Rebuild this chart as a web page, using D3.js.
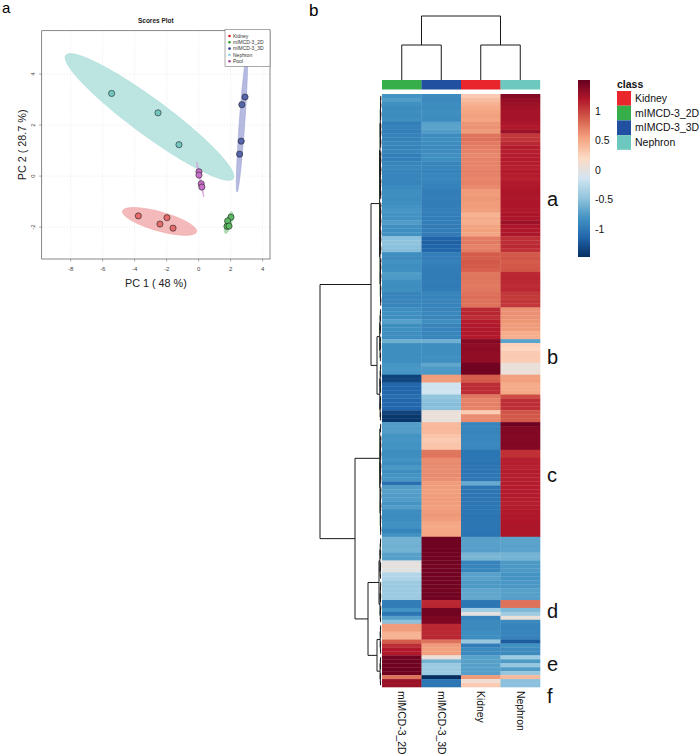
<!DOCTYPE html>
<html><head><meta charset="utf-8">
<script src="https://cdn.jsdelivr.net/npm/d3@7"></script>
<style>
body{margin:0;background:#fff}
svg{display:block}
text{font-family:"Liberation Sans", Arial, Helvetica, sans-serif}
</style>
</head><body>
<svg id="chart" width="700" height="756"></svg>
<script>
// ===================== DATA =====================
// --- Panel a: PCA scores (PC1, PC2) ---
const scoreGroups = ["Kidney", "mIMCD-3_2D", "mIMCD-3_3D", "Nephron", "Pool"];
const kidneyScores   = [[-3.77, -1.56], [-1.98, -1.63], [-2.42, -1.88], [-1.60, -2.04]];
const mimcd2dScores  = [[2.02, -1.61], [1.81, -1.76], [1.77, -1.97], [1.90, -1.96]];
const mimcd3dScores  = [[2.90, 3.10], [2.70, 2.80], [2.66, 1.37], [2.56, 0.86]];
const nephronScores  = [[-5.44, 3.24], [-2.54, 2.48], [-1.23, 1.23]];
const poolScores     = [[0.02, 0.17], [0.02, 0.04], [0.16, -0.30], [0.20, -0.43]];
const scoreLegendColors = ["#e41a1c", "#33a02c", "#2b3990", "#8dd3e0", "#a349a4"];
const scorePointColors  = ["#e46a6b", "#5cb862", "#5565ab", "#72c6c0", "#c86fca"];
const scoreEllipseColors= ["#f0a3a4", "#93d29a", "#9da3d6", "#a6dcd8", "#d49bd6"];
const pcaXTicks = [-8, -6, -4, -2, 0, 2, 4];
const pcaYTicks = [-2, 0, 2, 4];
const pc1Label = "PC 1 ( 48 %)";
const pc2Label = "PC 2 ( 28.7 %)";

// --- Panel b: heatmap ---
const heatColumns = ["mIMCD-3_2D", "mIMCD-3_3D", "Kidney", "Nephron"];
const classNames  = ["Kidney", "mIMCD-3_2D", "mIMCD-3_3D", "Nephron"];
const classColors = ["#e8262b", "#36af4b", "#2150a0", "#6dc8bf"];
// rows: [mIMCD-3_2D, mIMCD-3_3D, Kidney, Nephron]
const heatRows = [
[-0.80,-0.86,0.30,1.40],[-0.74,-0.88,0.38,1.33],[-0.82,-0.85,0.45,1.30],[-0.86,-0.86,0.50,1.27],
[-0.84,-0.83,0.53,1.25],[-0.86,-0.84,0.55,1.25],[-0.83,-0.86,0.53,1.26],[-0.96,-0.72,0.60,1.22],
[-0.94,-0.70,0.62,1.20],[-0.96,-0.74,0.58,1.30],[-0.93,-0.86,0.76,1.05],[-0.94,-0.84,0.78,1.07],
[-0.91,-0.86,0.74,1.12],[-0.93,-0.88,0.72,1.18],[-0.91,-0.86,0.70,1.17],[-0.96,-0.83,0.67,1.18],
[-0.95,-0.84,0.70,1.19],[-0.91,-0.91,0.70,1.18],[-0.89,-0.91,0.69,1.17],[-0.91,-0.93,0.71,1.19],
[-0.92,-0.91,0.70,1.18],[-0.90,-0.89,0.68,1.16],[-0.91,-0.92,0.70,1.19],[-0.88,-0.93,0.66,1.20],
[-0.84,-0.96,0.58,1.22],[-0.83,-0.96,0.57,1.23],[-0.86,-0.95,0.60,1.21],[-0.83,-0.97,0.58,1.22],
[-0.81,-0.96,0.58,1.22],[-0.79,-0.95,0.56,1.20],[-0.81,-0.96,0.45,1.23],[-0.81,-0.97,0.50,1.22],
[-0.74,-0.96,0.48,1.30],[-0.83,-0.98,0.54,1.22],[-0.84,-0.97,0.55,1.21],[-0.82,-0.98,0.53,1.23],
[-0.50,-1.15,0.72,1.10],[-0.48,-1.17,0.74,1.10],[-0.50,-1.15,0.70,1.12],[-0.52,-1.13,0.72,1.08],
[-0.84,-0.96,0.88,0.90],[-0.86,-0.96,0.87,0.92],[-0.81,-0.94,0.90,0.88],[-0.84,-0.96,0.88,0.90],
[-0.83,-0.97,0.86,0.91],[-0.74,-0.98,0.75,1.12],[-0.76,-0.98,0.76,1.13],[-0.83,-0.97,0.75,1.12],
[-0.84,-0.98,0.74,1.10],[-0.83,-0.97,0.75,1.12],[-0.91,-0.91,0.78,1.05],[-0.92,-0.93,0.80,1.04],
[-0.90,-0.91,0.78,1.06],[-0.91,-0.92,0.77,1.05],[-0.84,-0.91,1.12,0.62],[-0.83,-0.89,1.13,0.63],
[-0.84,-0.91,1.10,0.62],[-0.72,-0.84,1.18,0.60],[-0.84,-0.91,1.20,0.58],[-0.83,-0.92,1.21,0.57],
[-0.84,-0.91,1.20,0.48],[-0.85,-0.91,1.19,0.47],[-0.62,-0.62,1.40,-0.70],[-0.84,-0.83,1.35,0.25],
[-0.83,-0.84,1.36,0.22],[-0.84,-0.83,1.35,0.30],[-0.83,-0.82,1.34,0.31],[-0.84,-0.83,1.35,0.29],
[-0.79,-0.68,1.48,0.05],[-0.78,-0.76,1.49,0.04],[-0.79,-0.77,1.48,0.06],[-1.35,0.58,0.88,0.55],
[-1.33,0.57,0.89,0.56],[-1.13,-0.15,1.10,0.50],[-1.14,-0.16,1.11,0.50],[-1.13,-0.14,1.10,0.51],
[-1.08,-0.47,0.75,0.95],[-1.13,-0.50,0.70,1.10],[-1.12,-0.52,0.71,1.10],[-1.13,-0.50,0.70,1.09],
[-1.35,0.05,0.30,0.92],[-1.42,0.05,0.65,0.90],[-1.43,0.04,0.66,0.90],[-0.74,0.40,-0.92,1.50],
[-0.75,0.42,-0.91,1.42],[-0.74,0.40,-0.92,1.42],[-0.80,0.33,-0.89,1.40],[-0.79,0.30,-0.89,1.40],
[-0.81,0.33,-0.88,1.41],[-0.80,0.34,-0.89,1.40],[-0.85,0.75,-1.02,1.08],[-0.84,0.76,-1.02,1.08],
[-0.80,0.65,-1.02,1.17],[-0.85,0.66,-1.04,1.17],[-0.78,0.64,-1.02,1.16],[-0.85,0.65,-1.03,1.18],
[-0.80,0.66,-1.02,1.17],[-0.79,0.63,-1.01,1.17],[-1.07,0.58,-0.65,1.18],[-0.74,0.57,-1.02,1.18],
[-0.72,0.56,-1.02,1.18],[-0.75,0.57,-1.03,1.19],[-0.74,0.58,-1.02,1.18],[-0.80,0.57,-1.02,1.17],
[-0.74,0.56,-1.02,1.18],[-0.85,0.58,-1.02,1.20],[-0.86,0.60,-1.03,1.21],[-0.85,0.57,-1.02,1.20],
[-0.82,0.52,-1.02,1.22],[-0.82,0.50,-1.02,1.23],[-0.92,0.52,-1.02,1.22],[-0.82,0.53,-1.03,1.22],
[-0.60,1.50,-0.72,-0.70],[-0.60,1.49,-0.71,-0.70],[-0.62,1.50,-0.72,-0.71],[-0.60,1.50,-0.73,-0.70],
[-0.72,1.48,-0.58,-0.60],[-0.73,1.48,-0.58,-0.60],[0.00,1.48,-0.92,-0.76],[0.02,1.47,-0.92,-0.77],
[-0.02,1.48,-0.90,-0.76],[-0.30,1.48,-0.72,-0.80],[-0.31,1.48,-0.72,-0.80],[-0.42,1.48,-0.76,-0.78],
[-0.43,1.48,-0.76,-0.77],[-0.42,1.47,-0.68,-0.72],[-0.41,1.48,-0.68,-0.72],[-0.42,1.48,-0.67,-0.73],
[-0.97,1.12,-1.02,0.78],[-0.97,1.13,-1.02,0.77],[-0.80,1.48,-0.40,-0.55],[-1.02,1.48,0.00,-0.40],
[-0.72,1.43,-0.92,0.05],[-0.50,1.43,-0.87,-0.87],[0.58,1.12,-0.87,-0.92],[0.57,1.12,-0.87,-0.92],
[0.45,1.12,-0.85,-0.92],[0.45,1.13,-0.85,-0.93],[0.88,0.77,-0.45,-1.20],[1.10,0.58,-0.97,-0.82],
[1.20,0.55,-0.87,-0.87],[1.20,0.55,-0.88,-0.87],[1.48,0.05,-0.72,-0.40],[1.50,-0.60,-0.72,-0.76],
[1.50,-0.42,-0.72,-0.45],[1.50,-0.43,-0.72,-0.74],[1.50,-0.42,-0.73,-0.45],[0.77,-1.47,0.58,0.40],
[1.30,-1.02,0.10,-0.50],[1.30,-1.02,0.30,-0.50]
];
// colour ramp: rev(brewer.pal(10,"RdBu")) spread over the data range
const heatPalette = ["#67001F","#B2182B","#D6604D","#F4A582","#FDDBC7","#D1E5F0","#92C5DE","#4393C3","#2166AC","#053061"];
const heatMax = 1.53, heatMin = -1.47;
const heatLegendTicks = [1, 0.5, 0, -0.5, -1];
// row clusters: [name, firstRow, lastRow, inner merge height]
const rowClusters = [["a",0,53,1.4],["b1",54,67,1.3],["b2",68,82,1.2],["c1",83,85,0.5],["c2",86,111,1.0],
                     ["d1",112,122,1.1],["d2",123,133,1.0],["e",134,141,0.8],["f",142,149,0.9]];
// row dendrogram: [height, left, right]
const rowTree = [61, [10, "a", [4, "b1", "b2"]], [26, [1.2, "c1", "c2"], [13, [2, "d1", "d2"], [4, "e", "f"]]]];
// column dendrogram over column indexes
const colTree = [64, [35, 0, 1], [35, 2, 3]];
// cluster letters: [label, row position]
const clusterLetters = [["a",26.6],["b",66.5],["c",96.4],["d",130.8],["e",144.2],["f",152.3]];

// ===================== DRAW =====================
const svg = d3.select("#chart");

// panel letters
svg.append("text").attr("x", 2).attr("y", 13).attr("font-size", 15).text("a");
svg.append("text").attr("x", 309).attr("y", 16).attr("font-size", 17).text("b");

// ---------- Panel a ----------
const pa = {l: 41.7, r: 270, t: 30.7, b: 259};
const sx = d3.scaleLinear().domain([-9.81, 4.46]).range([pa.l, pa.r]);
const sy = d3.scaleLinear().domain([-3.25, 5.7]).range([pa.b, pa.t]);
const gA = svg.append("g");

gA.append("text").attr("x", (pa.l + pa.r) / 2).attr("y", 23.3).attr("text-anchor", "middle")
  .attr("font-size", 6.5).attr("font-weight", "bold").attr("fill", "#222").text("Scores Plot");

// grid
const gridG = gA.append("g").attr("stroke", "#d9d9d9").attr("stroke-width", 0.5).attr("stroke-dasharray", "1,1.5");
gridG.selectAll("line.vx").data(pcaXTicks).join("line")
  .attr("x1", d => sx(d)).attr("x2", d => sx(d)).attr("y1", pa.t).attr("y2", pa.b);
gridG.selectAll("line.hy").data(pcaYTicks).join("line")
  .attr("y1", d => sy(d)).attr("y2", d => sy(d)).attr("x1", pa.l).attr("x2", pa.r);

gA.append("clipPath").attr("id", "pcaClip").append("rect")
  .attr("x", pa.l).attr("y", pa.t).attr("width", pa.r - pa.l).attr("height", pa.b - pa.t);

const scoreSets = [kidneyScores, mimcd2dScores, mimcd3dScores, nephronScores, poolScores];
const chi = Math.sqrt(5.991);
function ellipsePts(pts) {
  const n = pts.length;
  const mx = d3.mean(pts, p => p[0]), my = d3.mean(pts, p => p[1]);
  let sxx = 0, syy = 0, sxy = 0;
  pts.forEach(p => { sxx += (p[0]-mx)**2; syy += (p[1]-my)**2; sxy += (p[0]-mx)*(p[1]-my); });
  sxx /= (n-1); syy /= (n-1); sxy /= (n-1);
  const tr = sxx + syy, det = sxx*syy - sxy*sxy;
  const disc = Math.sqrt(Math.max(tr*tr/4 - det, 0));
  const l1 = tr/2 + disc, l2 = Math.max(tr/2 - disc, 1e-6);
  let vx = sxy, vy = l1 - sxx;
  if (Math.abs(vx) < 1e-12 && Math.abs(vy) < 1e-12) { vx = 1; vy = 0; }
  const nn = Math.hypot(vx, vy); vx /= nn; vy /= nn;
  const a = chi*Math.sqrt(l1), b = chi*Math.sqrt(l2);
  return d3.range(0, 101).map(i => {
    const t = i/100*2*Math.PI;
    return [mx + a*Math.cos(t)*vx - b*Math.sin(t)*vy, my + a*Math.cos(t)*vy + b*Math.sin(t)*vx];
  });
}
const ellG = gA.append("g").attr("clip-path", "url(#pcaClip)");
const line = d3.line().x(d => sx(d[0])).y(d => sy(d[1]));
scoreSets.forEach((pts, i) => {
  ellG.append("path").attr("d", line(ellipsePts(pts)) + "Z")
    .attr("fill", scoreEllipseColors[i]).attr("fill-opacity", 0.75)
    .attr("stroke", scoreEllipseColors[i]).attr("stroke-width", 0.6);
});
scoreSets.forEach((pts, i) => {
  ellG.selectAll(null).data(pts).join("circle")
    .attr("cx", d => sx(d[0])).attr("cy", d => sy(d[1])).attr("r", 3.1)
    .attr("fill", scorePointColors[i]).attr("stroke", "#222").attr("stroke-width", 0.6);
});

// frame
gA.append("rect").attr("x", pa.l).attr("y", pa.t).attr("width", pa.r - pa.l).attr("height", pa.b - pa.t)
  .attr("fill", "none").attr("stroke", "#555").attr("stroke-width", 0.7);

// axes ticks
const tickG = gA.append("g").attr("stroke", "#555").attr("stroke-width", 0.5);
tickG.selectAll("line.tx").data(pcaXTicks).join("line")
  .attr("x1", d => sx(d)).attr("x2", d => sx(d)).attr("y1", pa.b).attr("y2", pa.b + 2.5);
tickG.selectAll("line.ty").data(pcaYTicks).join("line")
  .attr("y1", d => sy(d)).attr("y2", d => sy(d)).attr("x1", pa.l).attr("x2", pa.l - 2.5);
gA.selectAll("text.xt").data(pcaXTicks).join("text")
  .attr("x", d => sx(d)).attr("y", 271).attr("text-anchor", "middle")
  .attr("font-size", 6).attr("fill", "#444").text(d => d);
gA.selectAll("text.yt").data(pcaYTicks).join("text")
  .attr("transform", d => `translate(35,${sy(d)}) rotate(-90)`).attr("text-anchor", "middle")
  .attr("font-size", 6).attr("fill", "#444").text(d => d);

gA.append("text").attr("x", (pa.l + pa.r) / 2).attr("y", 287).attr("text-anchor", "middle")
  .attr("font-size", 10.8).attr("fill", "#222").text(pc1Label);
gA.append("text").attr("transform", `translate(26,${(pa.t + pa.b) / 2}) rotate(-90)`).attr("text-anchor", "middle")
  .attr("font-size", 10.8).attr("fill", "#222").text(pc2Label);

// legend
const lg = gA.append("g");
lg.append("rect").attr("x", 225).attr("y", 29.5).attr("width", pa.r - 225).attr("height", 37)
  .attr("fill", "#fff").attr("stroke", "#555").attr("stroke-width", 0.5);
scoreGroups.forEach((g, i) => {
  lg.append("circle").attr("cx", 229.5).attr("cy", 36 + i * 6.3).attr("r", 1.3).attr("fill", scoreLegendColors[i]);
  lg.append("text").attr("x", 233).attr("y", 36 + i * 6.3).attr("dy", "0.35em")
    .attr("font-size", 5).attr("fill", "#333").text(g);
});

// ---------- Panel b ----------
const hx = d3.scaleBand().domain(heatColumns).range([382, 540]);
const hy = d3.scaleBand().domain(d3.range(heatRows.length)).range([94, 687]);
const nStops = heatPalette.length;
const heatColor = d3.scaleLinear()
  .domain(heatPalette.map((_, i) => heatMax - (heatMax - heatMin) * i / (nStops - 1)))
  .range(heatPalette).interpolate(d3.interpolateRgb).clamp(true);

const gB = svg.append("g");
heatRows.forEach((row, ri) => {
  gB.selectAll(null).data(row).join("rect")
    .attr("x", (d, ci) => hx(heatColumns[ci])).attr("y", hy(ri))
    .attr("width", hx.bandwidth() + 0.3).attr("height", hy.bandwidth() + 0.3)
    .attr("fill", d => heatColor(d));
});

// annotation bar
gB.selectAll("rect.ann").data(heatColumns).join("rect")
  .attr("x", d => hx(d)).attr("y", 80).attr("width", hx.bandwidth() + 0.2).attr("height", 9.5)
  .attr("fill", d => classColors[classNames.indexOf(d)]);

// column labels
gB.selectAll("text.cl").data(heatColumns).join("text")
  .attr("transform", d => `translate(${hx(d) + hx.bandwidth() / 2},691) rotate(90)`)
  .attr("dy", "0.35em").attr("font-size", 10.4).attr("fill", "#111").text(d => d);

// column dendrogram
const cy = d3.scaleLinear().domain([0, 64]).range([80, 16]);
const dendG = gB.append("g").attr("fill", "none").attr("stroke", "#1a1a1a").attr("stroke-width", 1);
function colNode(n) {
  if (typeof n === "number") return {x: hx(heatColumns[n]) + hx.bandwidth() / 2, h: 0};
  const L = colNode(n[1]), R = colNode(n[2]);
  dendG.append("path").attr("d", `M${L.x},${cy(L.h)}V${cy(n[0])}H${R.x}V${cy(R.h)}`);
  return {x: (L.x + R.x) / 2, h: n[0]};
}
colNode(colTree);

// row dendrogram
const rx = d3.scaleLinear().domain([0, 61]).range([381, 320]);
const rowCenter = i => hy(i) + hy.bandwidth() / 2;
function drawLink(L, R, h, w) {
  dendG.append("path").attr("stroke-width", w)
    .attr("d", `M${rx(L.h)},${L.y}H${rx(h)}V${R.y}H${rx(R.h)}`);
}
function inner(lo, hi, h) {
  if (lo === hi) return {y: rowCenter(lo), h: 0};
  const mid = Math.floor((lo + hi) / 2);
  const L = inner(lo, mid, h * 0.7), R = inner(mid + 1, hi, h * 0.7);
  drawLink(L, R, h, 1);
  return {y: (L.y + R.y) / 2, h};
}
function rowNode(n) {
  if (typeof n === "string") {
    const c = rowClusters.find(k => k[0] === n);
    return inner(c[1], c[2], c[3]);
  }
  const L = rowNode(n[1]), R = rowNode(n[2]);
  drawLink(L, R, n[0], 1);
  return {y: (L.y + R.y) / 2, h: n[0]};
}
rowNode(rowTree);

// cluster letters
gB.selectAll("text.let").data(clusterLetters).join("text")
  .attr("x", 547).attr("y", d => 94 + d[1] * hy.step()).attr("dy", "0.35em")
  .attr("font-size", 20).attr("fill", "#111").text(d => d[0]);

// colour legend
const defs = svg.append("defs");
const grad = defs.append("linearGradient").attr("id", "hmGrad").attr("x1", 0).attr("x2", 0).attr("y1", 0).attr("y2", 1);
grad.selectAll("stop").data(heatPalette).join("stop")
  .attr("offset", (d, i) => i / (nStops - 1)).attr("stop-color", d => d);
const ly = d3.scaleLinear().domain([heatMax, heatMin]).range([80, 257]);
gB.append("rect").attr("x", 578).attr("y", ly(heatMax)).attr("width", 12).attr("height", ly(heatMin) - ly(heatMax))
  .attr("fill", "url(#hmGrad)");
gB.selectAll("text.lt").data(heatLegendTicks).join("text")
  .attr("x", 595).attr("y", d => ly(d)).attr("dy", "0.35em").attr("font-size", 10.5).attr("fill", "#111").text(d => d);

// class legend
gB.append("text").attr("x", 617).attr("y", 88).attr("font-size", 10.5).attr("font-weight", "bold").attr("fill", "#111").text("class");
gB.selectAll("rect.cls").data(classNames).join("rect")
  .attr("x", 617).attr("y", (d, i) => 91 + i * 14.7).attr("width", 14).attr("height", 14.7)
  .attr("fill", (d, i) => classColors[i]);
gB.selectAll("text.cls").data(classNames).join("text")
  .attr("x", 635).attr("y", (d, i) => 91 + i * 14.7 + 7.3).attr("dy", "0.35em")
  .attr("font-size", 10.5).attr("fill", "#111").text(d => d);
</script>
</body></html>
